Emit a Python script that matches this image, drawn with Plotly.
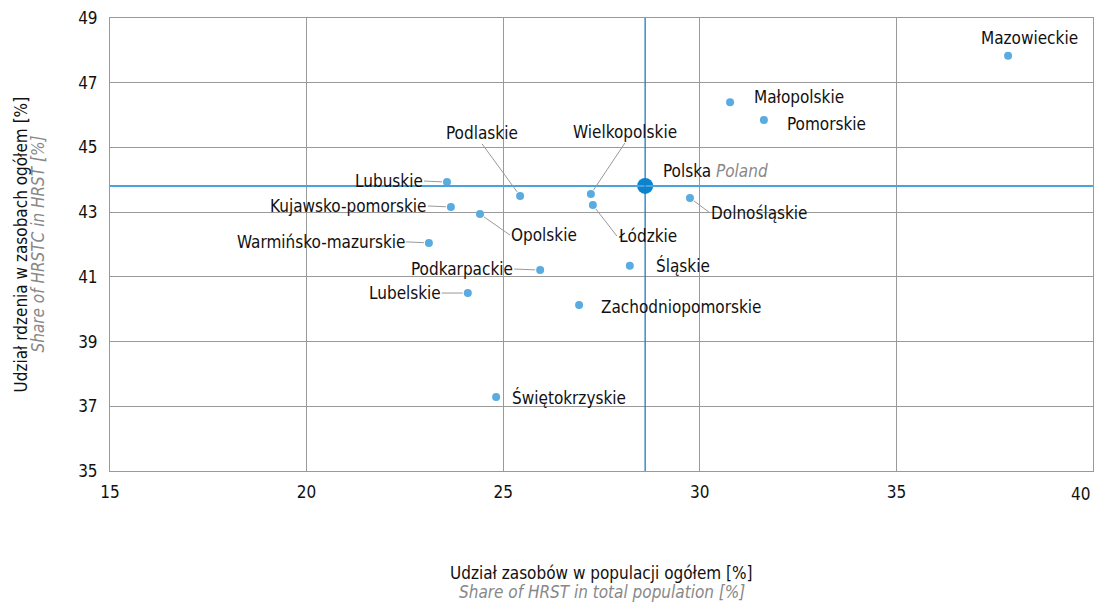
import plotly.graph_objects as go

regions = ["Mazowieckie", "Małopolskie", "Pomorskie", "Lubuskie", "Podlaskie",
           "Kujawsko-pomorskie", "Opolskie", "Wielkopolskie", "Łódzkie", "Dolnośląskie",
           "Warmińsko-mazurskie", "Podkarpackie", "Śląskie", "Lubelskie",
           "Zachodniopomorskie", "Świętokrzyskie"]
hrst_share = [37.84, 30.77, 31.63, 23.57, 25.43, 23.67, 24.41, 27.23, 27.28, 29.75,
              23.11, 25.94, 28.22, 24.10, 26.93, 24.82]
hrstc_share = [47.83, 46.40, 45.85, 43.93, 43.50, 43.16, 42.94, 43.56, 43.22, 43.44,
               42.05, 41.21, 41.34, 40.50, 40.13, 37.29]
poland_name = "Polska"
poland_name_en = "Poland"
poland_x = 28.61
poland_y = 43.81

x_ticks = [15, 20, 25, 30, 35, 40]
y_ticks = [35, 37, 39, 41, 43, 45, 47, 49]

FONT = "DejaVu Sans Condensed, Liberation Sans Narrow, sans-serif"
FS = 17

# label placement (style): mode, xanchor, dx, dy (pixels; dy positive = down)
label_style = {
    "Mazowieckie": ("text", "center", 21, -18),
    "Małopolskie": ("text", "left", 22, -5),
    "Pomorskie": ("text", "left", 21, 4),
    "Lubuskie": ("arrow", "right", -23, -1),
    "Podlaskie": ("arrowb", "center", -38, -52),
    "Kujawsko-pomorskie": ("arrow", "right", -23, -1),
    "Opolskie": ("arrow", "left", 30, 21),
    "Wielkopolskie": ("arrowb", "center", 34, -51),
    "Łódzkie": ("arrow", "left", 24, 31),
    "Dolnośląskie": ("arrow", "left", 20, 15),
    "Warmińsko-mazurskie": ("arrow", "right", -23, -1),
    "Podkarpackie": ("arrow", "right", -26, -1),
    "Śląskie": ("text", "left", 24, 0),
    "Lubelskie": ("arrow", "right", -26, 0),
    "Zachodniopomorskie": ("text", "left", 20, 2),
    "Świętokrzyskie": ("text", "left", 14, 1),
}

fig = go.Figure()

# reference lines at national values
fig.add_shape(type="line", xref="paper", yref="y", x0=0, x1=1, y0=poland_y, y1=poland_y,
              line=dict(color="#4aa3db", width=2), layer="above")
fig.add_shape(type="line", xref="x", yref="paper", x0=poland_x, x1=poland_x, y0=0, y1=1,
              line=dict(color="#1a7dc2", width=1.3), layer="above")

fig.add_trace(go.Scatter(x=hrst_share, y=hrstc_share, mode="markers",
                         marker=dict(size=8, color="#5aabe0"), hoverinfo="text",
                         text=regions, showlegend=False))
fig.add_trace(go.Scatter(x=[poland_x], y=[poland_y], mode="markers",
                         marker=dict(size=16, color="#0a84cf"), hoverinfo="text",
                         text=[poland_name], showlegend=False))

annotations = []
lab_font = dict(family=FONT, size=FS, color="#111111")
for name, xv, yv in zip(regions, hrst_share, hrstc_share):
    mode, xa, dx, dy = label_style[name]
    if mode == "text":
        annotations.append(dict(x=xv, y=yv, xref="x", yref="y", text=name, showarrow=False,
                                xanchor=xa, yanchor="middle", xshift=dx, yshift=-dy,
                                font=lab_font))
    else:
        annotations.append(dict(x=xv, y=yv, xref="x", yref="y", text=name, showarrow=True,
                                arrowhead=0, arrowwidth=1, arrowcolor="#999999",
                                ax=dx, ay=dy, standoff=5, borderpad=0,
                                xanchor=xa, yanchor="bottom" if mode == "arrowb" else "middle",
                                font=lab_font))

annotations.append(dict(x=poland_x, y=poland_y, xref="x", yref="y",
                        text=f"{poland_name} <i><span style='color:#888888'>{poland_name_en}</span></i>",
                        showarrow=False, xanchor="left", yanchor="middle", xshift=16, yshift=15,
                        font=lab_font))

# last x tick label, kept inside the page
annotations.append(dict(x=x_ticks[-1], y=0, xref="x", yref="paper", text=str(x_ticks[-1]),
                        showarrow=False, xanchor="right", yanchor="top", xshift=-1, yshift=-11,
                        font=lab_font))

# axis titles
annotations.append(dict(xref="paper", yref="paper", x=0.5, y=0, yshift=-102, showarrow=False,
                        yanchor="middle", xanchor="center",
                        text="Udział zasobów w populacji ogółem [%]", font=dict(family=FONT, size=FS, color="#111111")))
annotations.append(dict(xref="paper", yref="paper", x=0.5, y=0, yshift=-121, showarrow=False,
                        yanchor="middle", xanchor="center",
                        text="<i>Share of HRST in total population [%]</i>", font=dict(family=FONT, size=FS, color="#888888")))
annotations.append(dict(xref="paper", yref="paper", x=0, xshift=-90, y=0.5, showarrow=False,
                        textangle=-90, xanchor="center", yanchor="middle",
                        text="Udział rdzenia w zasobach ogółem [%]", font=dict(family=FONT, size=FS, color="#111111")))
annotations.append(dict(xref="paper", yref="paper", x=0, xshift=-73, y=0.5, showarrow=False,
                        textangle=-90, xanchor="center", yanchor="middle",
                        text="<i>Share of HRSTC in HRST [%]</i>", font=dict(family=FONT, size=FS, color="#888888")))

fig.update_layout(
    width=1097, height=605,
    margin=dict(l=110, r=4, t=18, b=134),
    plot_bgcolor="white", paper_bgcolor="white",
    font=dict(family=FONT, size=FS, color="#111111"),
    annotations=annotations,
    xaxis=dict(range=[15, 40], tickvals=x_ticks[:-1], showgrid=True, gridcolor="#9a9a9a", gridwidth=1,
               showline=True, linecolor="#9a9a9a", linewidth=1, mirror=True, zeroline=False,
               ticks="", ticklabelstandoff=6, tickfont=dict(family=FONT, size=FS, color="#111111")),
    yaxis=dict(range=[35, 49], tickvals=y_ticks, showgrid=True, gridcolor="#9a9a9a", gridwidth=1,
               showline=True, linecolor="#9a9a9a", linewidth=1, mirror=True, zeroline=False,
               ticks="", ticklabelstandoff=8, tickfont=dict(family=FONT, size=FS, color="#111111")),
)

fig.write_html("out.html", config={"displayModeBar": False},
               post_script="document.body.style.margin='0';document.body.style.overflow='hidden';")
